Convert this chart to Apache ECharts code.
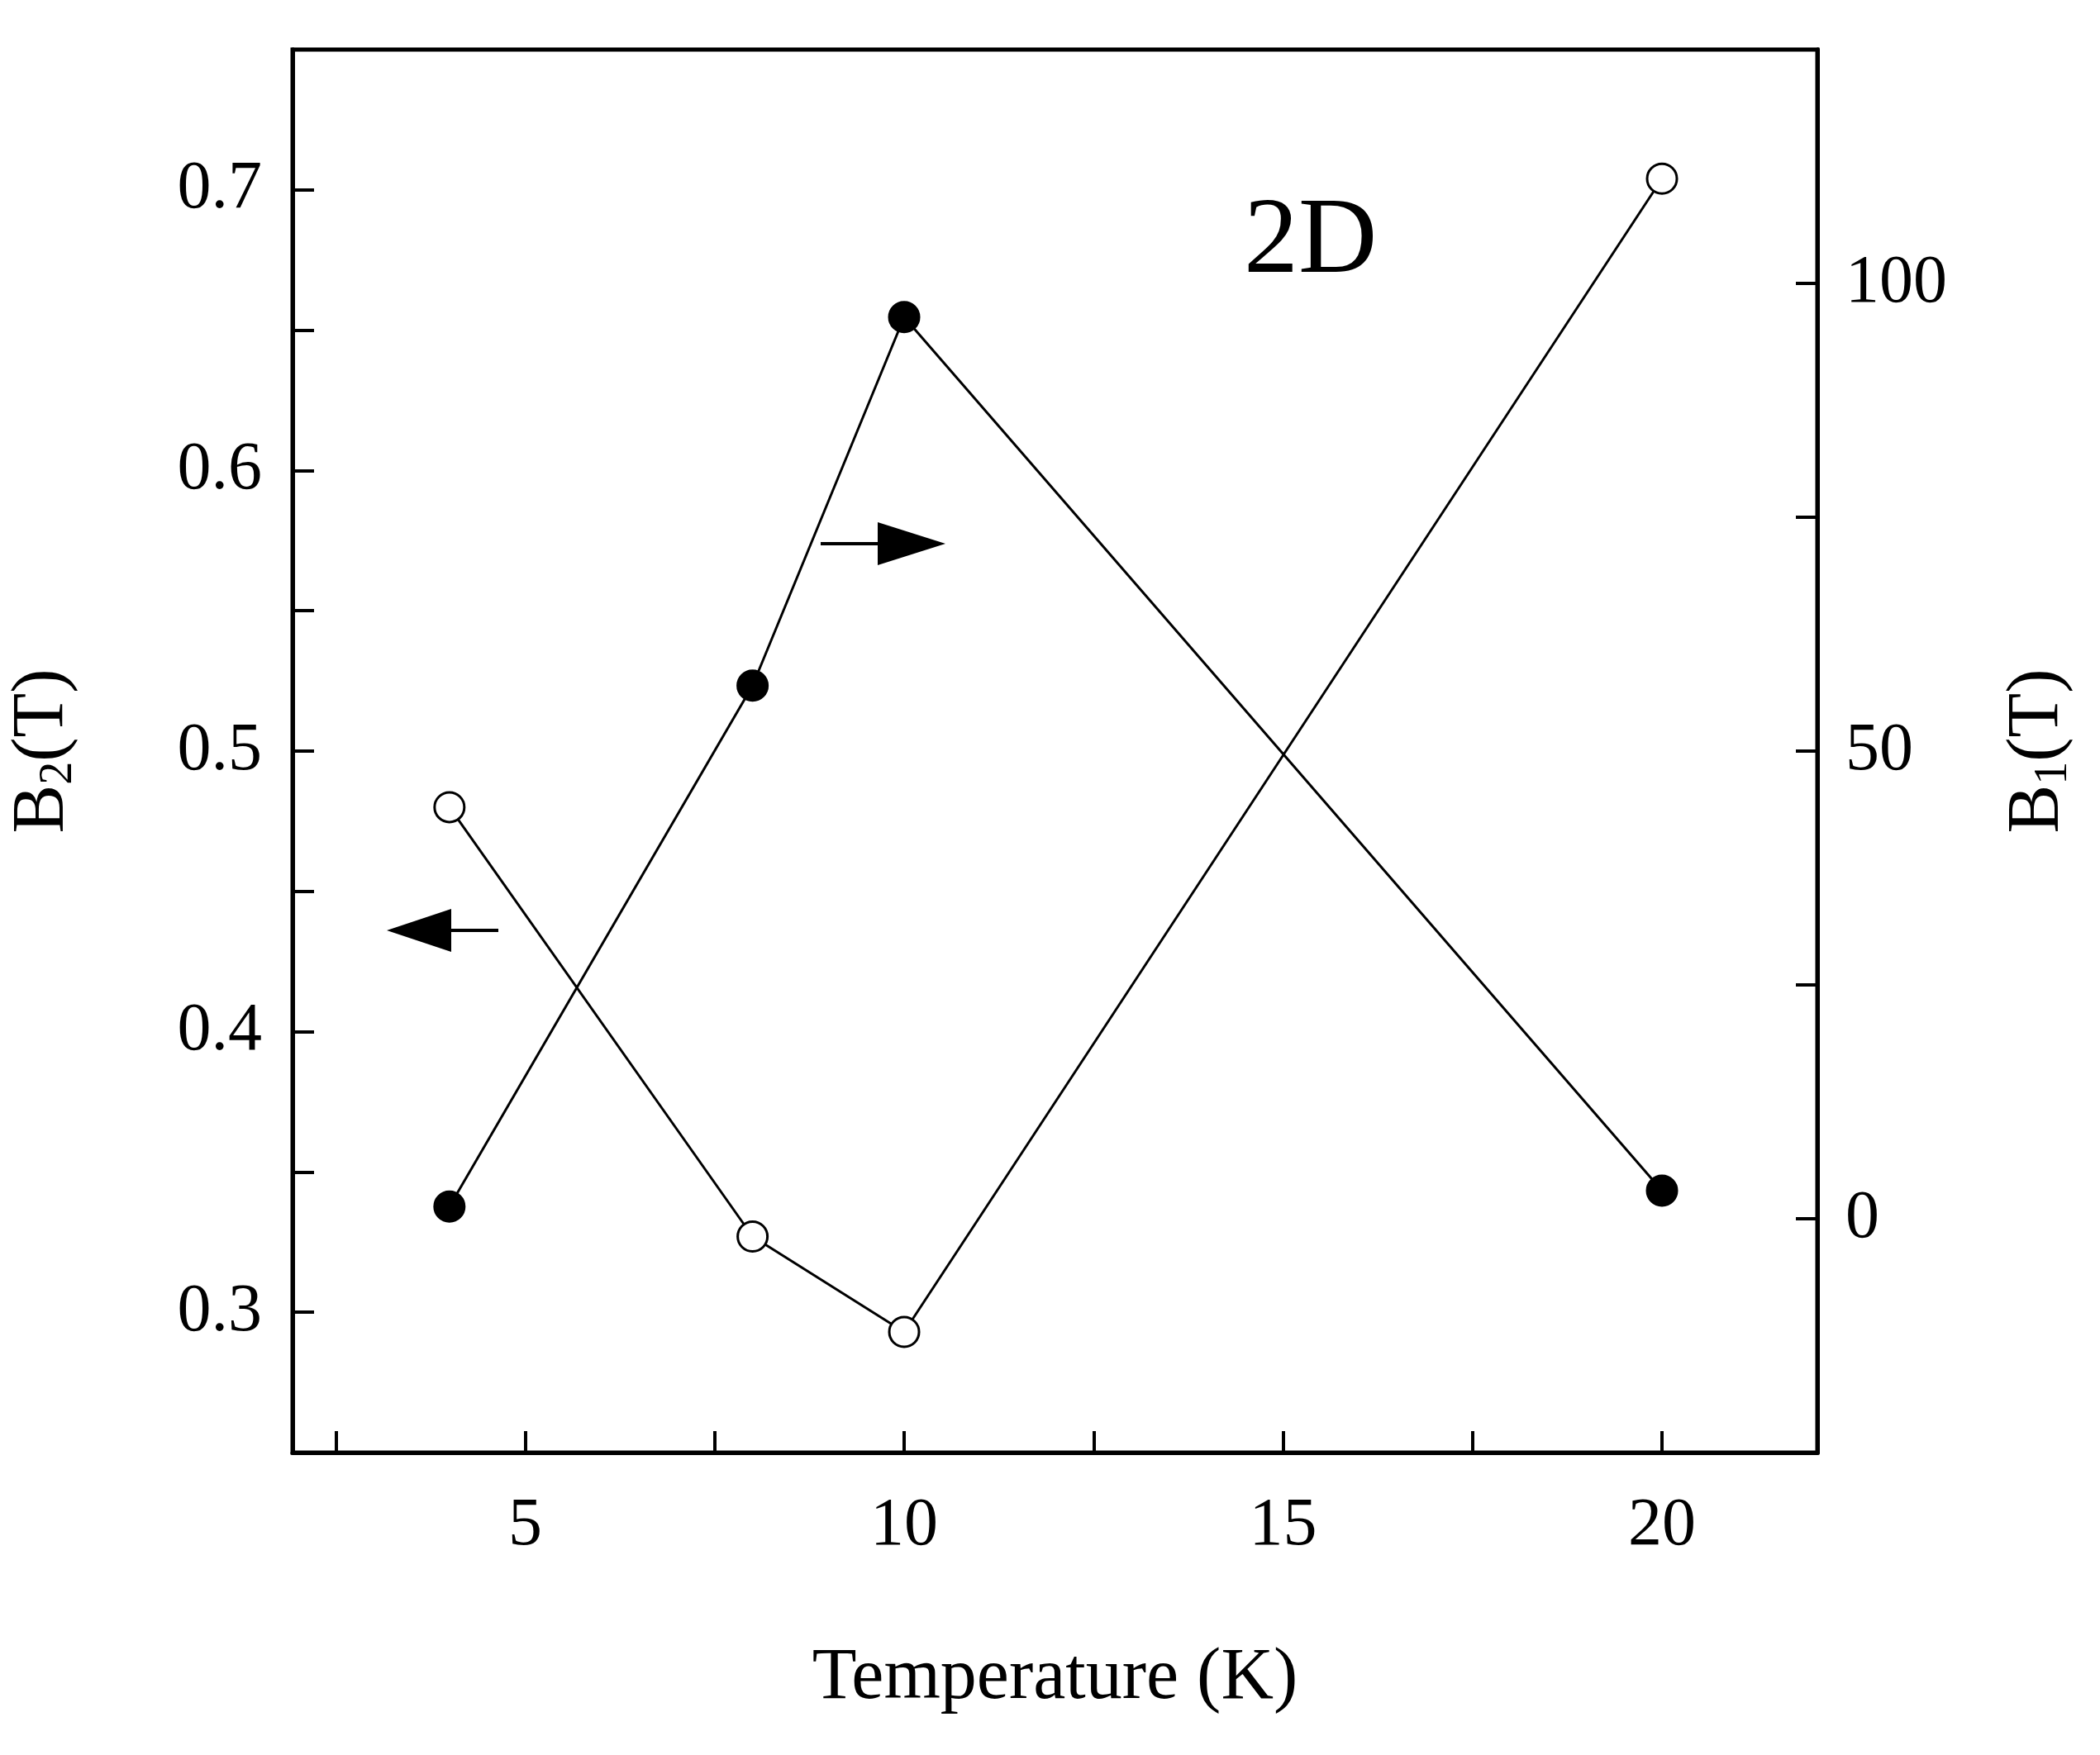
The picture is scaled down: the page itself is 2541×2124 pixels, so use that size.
<!DOCTYPE html>
<html>
<head>
<meta charset="utf-8">
<script src="https://cdn.jsdelivr.net/npm/echarts@6/dist/echarts.min.js"></script>
<style>html,body{margin:0;padding:0;background:#fff}#c{width:2541px;height:2124px}</style>
</head>
<body>
<div id="c"></div>
<script>
var temps = [4, 8, 10, 20];
var b2 = [0.48, 0.327, 0.293, 0.704];   // open circles, left axis
var b1 = [1.3, 57, 96.4, 3];            // filled circles, right axis

var xTicks = [2.5, 5, 7.5, 10, 12.5, 15, 17.5, 20];
var xLabels = [5, 10, 15, 20];
var leftTicks = [0.3, 0.35, 0.4, 0.45, 0.5, 0.55, 0.6, 0.65, 0.7];
var leftLabels = [0.3, 0.4, 0.5, 0.6, 0.7];
var rightTicks = [0, 25, 50, 75, 100];
var rightLabels = [0, 50, 100];

var font = 'Liberation Serif';
var chart = echarts.init(document.getElementById('c'));

function pair(xs, ys) { return xs.map(function (x, i) { return [x, ys[i]]; }); }

var nameRich = {
  b: { fontFamily: font, fontSize: 88, color: '#000' },
  s: { fontFamily: font, fontSize: 56, color: '#000', padding: [38, 0, 0, 0] }
};

chart.setOption({
  animation: false,
  grid: { left: 353, right: 342, top: 60, bottom: 366, show: true, borderColor: '#000', borderWidth: 5 },
  xAxis: {
    type: 'value', min: 1.93, max: 22.05,
    axisLine: { onZero: false, lineStyle: { color: '#000', width: 5 } },
    axisTick: { inside: true, length: 26, customValues: xTicks, lineStyle: { width: 4, color: '#000' } },
    axisLabel: { customValues: xLabels, margin: 48, fontFamily: font, fontSize: 82, color: '#000' },
    splitLine: { show: false },
    name: 'Temperature (K)', nameLocation: 'middle', nameGap: 230,
    nameTextStyle: { fontFamily: font, fontSize: 88, color: '#000' }
  },
  yAxis: [{
    type: 'value', min: 0.25, max: 0.75, position: 'left',
    axisLine: { show: true, onZero: false, lineStyle: { color: '#000', width: 5 } },
    axisTick: { show: true, inside: true, length: 26, customValues: leftTicks, lineStyle: { width: 4, color: '#000' } },
    axisLabel: { customValues: leftLabels, margin: 37, fontFamily: font, fontSize: 82, color: '#000',
      formatter: function (v) { return v.toFixed(1); } },
    splitLine: { show: false },
    name: '{b|B}{s|2}{b|(T)}', nameLocation: 'middle', nameGap: 255, nameRotate: 90,
    nameTextStyle: { rich: nameRich }
  }, {
    type: 'value', min: -25, max: 125, position: 'right',
    axisLine: { show: true, onZero: false, lineStyle: { color: '#000', width: 5 } },
    axisTick: { show: true, inside: true, length: 26, customValues: rightTicks, lineStyle: { width: 4, color: '#000' } },
    axisLabel: { customValues: rightLabels, margin: 34, fontFamily: font, fontSize: 82, color: '#000' },
    splitLine: { show: false },
    name: '{b|B}{s|1}{b|(T)}', nameLocation: 'middle', nameGap: 220, nameRotate: 90,
    nameTextStyle: { rich: nameRich }
  }],
  series: [{
    type: 'line', yAxisIndex: 0, data: pair(temps, b2),
    symbol: 'circle', symbolSize: 36,
    lineStyle: { color: '#000', width: 3 },
    itemStyle: { color: '#fff', borderColor: '#000', borderWidth: 3 }
  }, {
    type: 'line', yAxisIndex: 1, data: pair(temps, b1),
    symbol: 'circle', symbolSize: 36,
    lineStyle: { color: '#000', width: 3 },
    itemStyle: { color: '#000', borderColor: '#000', borderWidth: 3 }
  }],
  graphic: [
    { type: 'text', left: 1505, top: 228, style: { text: '2D', fontFamily: font, fontSize: 132, fill: '#000' } },
    { type: 'line', shape: { x1: 993, y1: 658, x2: 1065, y2: 658 }, style: { stroke: '#000', lineWidth: 4 } },
    { type: 'polygon', shape: { points: [[1062, 632], [1144, 658], [1062, 684]] }, style: { fill: '#000' } },
    { type: 'line', shape: { x1: 540, y1: 1126, x2: 603, y2: 1126 }, style: { stroke: '#000', lineWidth: 4 } },
    { type: 'polygon', shape: { points: [[546, 1100], [468, 1126], [546, 1152]] }, style: { fill: '#000' } }
  ]
});
</script>
</body>
</html>
